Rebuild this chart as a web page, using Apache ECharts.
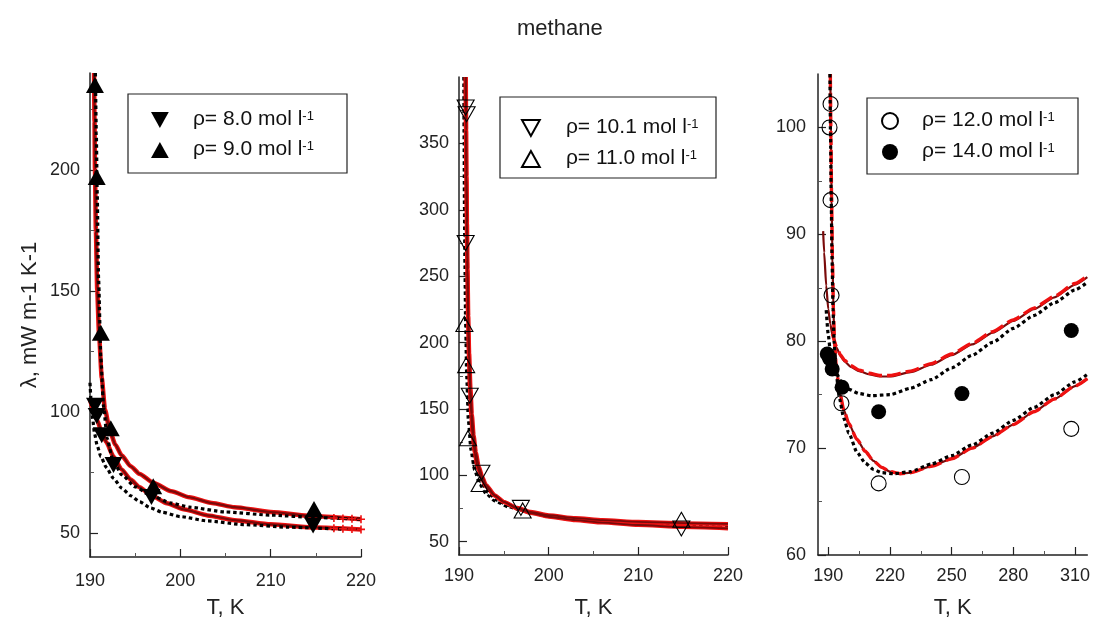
<!DOCTYPE html>
<html><head><meta charset="utf-8">
<script src="https://cdn.jsdelivr.net/npm/echarts@6/dist/echarts.min.js"></script>
<style>html,body{margin:0;padding:0;background:#fff}#c{width:1093px;height:624px}</style>
</head><body><div id="c"></div>
<script>
// ---------- Panel 1 (rho = 8.0, 9.0) ----------
const p1_pts8_T = [190.55, 190.74, 191.3, 192.6, 196.8, 214.7];
const p1_pts8_L = [102.5, 98.3, 90.3, 78.0, 64.8, 53.0];
const p1_pts9_T = [190.55, 190.74, 191.2, 192.3, 197.0, 214.8];
const p1_pts9_L = [235.0, 197.0, 132.7, 93.2, 69.2, 59.8];
const p1_c9_T = [190.45, 190.5, 190.55, 190.65, 190.8, 191.0, 191.3, 191.66, 192.2, 192.8, 193.5, 194.5, 195.5, 197, 199, 201, 203.5, 206, 210, 215, 220];
const p1_c9_L = [240, 220, 200, 175, 150, 132, 114, 101, 92, 86.5, 82, 77.5, 74.3, 70.7, 67.2, 64.7, 62.3, 60.6, 58.6, 56.8, 55.6];
const p1_d9_T = [190.6, 190.7, 190.8, 190.95, 191.2, 191.5, 191.9, 192.5, 193.5, 195, 196.7, 199, 201, 205, 210, 215, 220];
const p1_d9_L = [240, 215, 190, 155, 122, 102, 89, 80.5, 74, 69, 65.5, 62.3, 60.6, 58.6, 57.3, 56.3, 55.6];
const p1_c8_T = [190.0, 190.4, 190.8, 191.3, 191.8, 192.6, 193.5, 194.5, 195.5, 196.8, 198.5, 200.5, 203, 206, 210, 215, 220];
const p1_c8_L = [105, 100.5, 96.5, 91.5, 87.5, 81.5, 76.2, 72, 68.8, 65.4, 62.2, 59.6, 57.2, 55.2, 53.5, 52.2, 51.4];
const p1_d8_T = [190.0, 190.15, 190.3, 190.5, 190.8, 191.2, 191.8, 192.6, 193.5, 194.5, 195.5, 196.7, 198, 200, 203, 207, 212, 218];
const p1_d8_L = [112, 103, 97, 91, 86, 81.5, 77, 72.5, 68.5, 65.3, 62.8, 60.3, 58.5, 56.7, 54.9, 53.4, 52.3, 51.5];
const p1_plus_T = [217, 218, 219, 220, 217, 218, 219, 220];
const p1_plus_L = [56.1, 55.9, 55.8, 55.6, 51.9, 51.7, 51.6, 51.4];

// ---------- Panel 2 (rho = 10.1, 11.0) ----------
const p2_pts10_T = [190.74, 190.85, 190.74, 191.2, 192.5, 196.9, 214.8];
const p2_pts10_L = [377, 372, 275, 160, 102, 75.5, 60];
const p2_pts11_T = [190.6, 190.8, 191.0, 192.3, 197.1, 214.8];
const p2_pts11_L = [214, 183, 128, 93.5, 73.5, 66.5];
const p2_c10_T = [190.72, 190.76, 190.8, 190.85, 190.9, 191.0, 191.1, 191.2, 191.35, 191.5, 191.75, 192, 192.5, 193, 194, 195, 196.5, 198, 200, 203, 206, 210, 215, 220];
const p2_c10_L = [400, 360, 330, 295, 262, 215, 188, 167, 146, 131, 117, 108, 98, 91.5, 84.5, 80, 75.5, 72.5, 70, 67.8, 66.3, 65, 64, 63.4];
const p2_c11_T = [190.78, 190.82, 190.86, 190.91, 190.97, 191.05, 191.15, 191.3, 191.45, 191.65, 191.9, 192.2, 192.6, 193, 194, 195, 196.5, 198, 200, 203, 206, 210, 215, 220];
const p2_c11_L = [400, 360, 325, 290, 255, 220, 192, 165, 146, 130, 117, 107, 99, 93, 85, 80, 75, 71.6, 68.8, 66.2, 64.4, 62.6, 61, 60];
const p2_d10_T = [190.5, 190.53, 190.57, 190.62, 190.7, 190.82, 191.0, 191.3, 191.7, 192.3, 193, 194, 195.5, 197.5, 200, 203, 207, 212, 220];
const p2_d10_L = [400, 350, 300, 260, 215, 175, 142, 119, 104, 93, 86, 80.5, 76, 72.3, 69.2, 66.9, 65.2, 64, 63];
const p2_d11_T = [190.6, 190.64, 190.7, 190.78, 190.9, 191.1, 191.4, 191.8, 192.4, 193.2, 194.2, 195.5, 197.5, 200, 203, 207, 212, 220];
const p2_d11_L = [400, 340, 280, 230, 185, 150, 124, 107, 95, 87, 81, 77, 72.5, 68.7, 66.2, 64.2, 62.5, 61];

// ---------- Panel 3 (rho = 12.0, 14.0) ----------
const p3_pts12_T = [191.1, 190.6, 191.1, 191.6, 196.4, 214.5, 255, 308.2];
const p3_pts12_L = [102.2, 100, 93.2, 84.3, 74.2, 66.7, 67.3, 71.8];
const p3_pts14_T = [189.5, 190.6, 191.9, 196.7, 214.5, 255, 308.2];
const p3_pts14_L = [78.8, 78.4, 77.4, 75.7, 73.4, 75.1, 81.0];
const p3_c12_T = [191.0, 191.3, 191.6, 192.0, 192.5, 193.0, 194.0, 195.5, 197.5, 200, 204, 208, 212, 216, 220, 225, 230, 240, 250, 260, 270, 280, 290, 300, 310, 316];
const p3_c12_L = [105, 99, 93.5, 88, 83, 80, 77.3, 75.3, 73.6, 72.3, 70.8, 69.7, 68.8, 68.2, 67.8, 67.6, 67.7, 68.3, 69.0, 70.0, 71.1, 72.2, 73.4, 74.6, 75.8, 76.5];
const p3_d12_T = [190.8, 191.1, 191.4, 191.8, 192.3, 192.8, 193.8, 195.5, 197.5, 200, 204, 208, 212, 216, 222, 230, 240, 250, 260, 270, 280, 290, 300, 310, 316];
const p3_d12_L = [105, 99, 93.5, 88, 83, 80, 77, 74.6, 72.8, 71.4, 69.6, 68.6, 68.0, 67.7, 67.6, 67.8, 68.5, 69.3, 70.3, 71.4, 72.6, 73.8, 75.0, 76.2, 76.9];
const p3_c14_T = [187.5, 188, 189, 190, 191, 192, 194, 196, 198, 201, 205, 210, 215, 220, 230, 240, 250, 260, 270, 280, 290, 300, 310, 316];
const p3_c14_L = [90.3, 88.3, 85.2, 83.0, 81.6, 80.6, 79.4, 78.6, 78.1, 77.6, 77.2, 76.9, 76.7, 76.7, 77.1, 77.8, 78.7, 79.7, 80.8, 81.9, 83.0, 84.1, 85.3, 86.0];
const p3_r14_T = [192, 194, 196, 198, 201, 205, 210, 215, 220, 230, 240, 250, 260, 270, 280, 290, 300, 310, 316];
const p3_r14_L = [80.7, 79.5, 78.7, 78.2, 77.7, 77.3, 77.0, 76.8, 76.8, 77.2, 77.9, 78.8, 79.8, 80.9, 82.0, 83.1, 84.2, 85.4, 86.1];
const p3_d14_T = [189, 190, 191, 192.5, 194, 196, 198, 200, 205, 211, 220, 230, 240, 250, 260, 270, 280, 290, 300, 310, 316];
const p3_d14_L = [82.9, 80.6, 79.0, 77.8, 77.0, 76.3, 75.8, 75.5, 75.1, 74.9, 75.0, 75.6, 76.4, 77.5, 78.7, 79.9, 81.2, 82.4, 83.6, 84.8, 85.5];

// ---------- axis ticks & labels ----------
const p1_xMajor = [190, 200, 210, 220], p1_xMinor = [195, 205, 215];
const p1_yMajor = [50, 100, 150, 200], p1_yMinor = [75, 125, 175, 225];
const p2_xMajor = [190, 200, 210, 220], p2_xMinor = [195, 205, 215];
const p2_yMajor = [50, 100, 150, 200, 250, 300, 350], p2_yMinor = [75, 125, 175, 225, 275, 325, 375];
const p3_xMajor = [190, 220, 250, 280, 310], p3_xMinor = [205, 235, 265, 295];
const p3_yMajor = [60, 70, 80, 90, 100], p3_yMinor = [65, 75, 85, 95];

const names = ['8.0', '9.0', '10.1', '11.0', '12.0', '14.0'];

const FONT = '"Liberation Sans", Arial, sans-serif';
const AX = '#222';
const zip = (a, b) => a.map((v, i) => [v, b[i]]);

function axesFor(i, kind, min, max, major, minor, name, nameGap, margin) {
  const main = {
    type: 'value', gridIndex: i, min, max,
    position: kind === 'x' ? 'bottom' : 'left',
    axisLine: { show: true, onZero: false, lineStyle: { color: AX, width: 1.5 } },
    axisTick: { show: true, inside: true, length: 8, customValues: major, lineStyle: { color: AX, width: 1.2 } },
    axisLabel: { show: true, customValues: major, color: '#222', fontSize: 18, fontFamily: FONT, margin: margin },
    splitLine: { show: false },
    name: name, nameLocation: 'middle', nameGap: nameGap,
    nameTextStyle: { color: '#222', fontSize: 22, fontFamily: FONT }
  };
  const minorAx = {
    type: 'value', gridIndex: i, min, max,
    position: kind === 'x' ? 'bottom' : 'left',
    axisLine: { show: false },
    axisTick: { show: true, inside: true, length: 4, customValues: minor, lineStyle: { color: '#555', width: 1 } },
    axisLabel: { show: false, customValues: minor },
    splitLine: { show: false }
  };
  return [main, minorAx];
}

const xAxes = [], yAxes = [];
function addPanel(i, xr, yr, xMaj, xMin, yMaj, yMin, yName, xGap, xMargin, yMargin) {
  const xs = axesFor(i, 'x', xr[0], xr[1], xMaj, xMin, 'T, K', xGap, xMargin);
  const ys = axesFor(i, 'y', yr[0], yr[1], yMaj, yMin, yName, 49, yMargin);
  xAxes.push(xs[0], xs[1]);
  yAxes.push(ys[0], ys[1]);
}
addPanel(0, [190, 220], [40, 240], p1_xMajor, p1_xMinor, p1_yMajor, p1_yMinor, 'λ, mW m-1 K-1', 40, 15, 10);
addPanel(1, [190, 220], [40, 400], p2_xMajor, p2_xMinor, p2_yMajor, p2_yMinor, '', 42, 12, 10);
addPanel(2, [185, 316], [60, 105], p3_xMajor, p3_xMinor, p3_yMajor, p3_yMinor, '', 42, 12, 12);

const RED = '#ee1111', DARK = '#7a0a0a';
function line(p, data, color, width, type, z) {
  return { type: 'line', xAxisIndex: p * 2, yAxisIndex: p * 2, data, showSymbol: false, symbol: 'none',
    smooth: 0.2, smoothMonotone: 'x', silent: true, z: z,
    lineStyle: { color, width, type } };
}
function pts(p, name, data, symbol, rotate, filled, size) {
  return { type: 'scatter', name, xAxisIndex: p * 2, yAxisIndex: p * 2, data, symbol, symbolRotate: rotate,
    symbolSize: size, z: 10,
    itemStyle: filled ? { color: '#000', borderColor: '#000', borderWidth: 0, opacity: 1 }
                      : { color: 'rgba(255,255,255,0)', borderColor: '#000', borderWidth: 1.1, opacity: 1 } };
}

const DOT = [3.5, 3], LDASH = [14, 5];
const series = [
  // panel 1
  line(0, zip(p1_c9_T, p1_c9_L), RED, 4.5, 'solid', 2),
  line(0, zip(p1_c9_T, p1_c9_L), DARK, 2.2, 'solid', 3),
  line(0, zip(p1_d9_T, p1_d9_L), '#000', 3.2, DOT, 4),
  line(0, zip(p1_c8_T, p1_c8_L), RED, 4.5, 'solid', 2),
  line(0, zip(p1_c8_T, p1_c8_L), DARK, 2.2, 'solid', 3),
  line(0, zip(p1_d8_T, p1_d8_L), '#000', 3.2, DOT, 4),
  { type: 'scatter', xAxisIndex: 0, yAxisIndex: 0, data: zip(p1_plus_T, p1_plus_L), silent: true, z: 5,
    symbol: 'path://M4,0h2v4h4v2h-4v4h-2v-4h-4v-2h4z', symbolSize: 8, itemStyle: { color: RED, opacity: 1 } },
  pts(0, names[0], zip(p1_pts8_T, p1_pts8_L), 'triangle', 180, true, [18, 16]),
  pts(0, names[1], zip(p1_pts9_T, p1_pts9_L), 'triangle', 0, true, [18, 16]),
  // panel 2
  line(1, zip(p2_d10_T, p2_d10_L), '#000', 2.5, DOT, 2),
  line(1, zip(p2_d11_T, p2_d11_L), '#000', 2.5, DOT, 2),
  line(1, zip(p2_c10_T, p2_c10_L), RED, 4, 'solid', 3),
  line(1, zip(p2_c10_T, p2_c10_L), DARK, 1.8, 'solid', 4),
  line(1, zip(p2_c11_T, p2_c11_L), RED, 4, 'solid', 3),
  line(1, zip(p2_c11_T, p2_c11_L), DARK, 1.8, 'solid', 4),
  pts(1, names[2], zip(p2_pts10_T, p2_pts10_L), 'triangle', 180, false, [17, 15]),
  pts(1, names[3], zip(p2_pts11_T, p2_pts11_L), 'triangle', 0, false, [17, 15]),
  // panel 3
  line(2, zip(p3_c12_T, p3_c12_L), DARK, 2.2, 'solid', 2),
  line(2, zip(p3_c12_T, p3_c12_L), RED, 3.4, LDASH, 3),
  line(2, zip(p3_d12_T, p3_d12_L), '#000', 3.2, DOT, 4),
  line(2, zip(p3_c14_T, p3_c14_L), DARK, 2.2, 'solid', 2),
  line(2, zip(p3_r14_T, p3_r14_L), RED, 3.4, LDASH, 3),
  line(2, zip(p3_d14_T, p3_d14_L), '#000', 3.2, DOT, 4),
  pts(2, names[4], zip(p3_pts12_T, p3_pts12_L), 'circle', 0, false, 15),
  pts(2, names[5], zip(p3_pts14_T, p3_pts14_L), 'circle', 0, true, 15)
];

const DOWN = 'path://M0,0L20,0L10,18Z', UP = 'path://M10,0L20,18L0,18Z';
function legendFor(data, left, top, gap, pad) {
  return {
    data, left, top, orient: 'vertical', itemWidth: 18, itemHeight: 16, itemGap: gap,
    selectedMode: false, padding: 0,
    formatter: n => '{t|ρ= ' + n + ' mol l}{s|-1}',
    textStyle: {
      rich: {
        t: { fontSize: 21, fontFamily: FONT, color: '#111', lineHeight: 20, verticalAlign: 'bottom', padding: [0, 0, 0, pad] },
        s: { fontSize: 13, fontFamily: FONT, color: '#111', lineHeight: 13, verticalAlign: 'top' }
      }
    }
  };
}

const option = {
  backgroundColor: '#fff',
  animation: false,
  title: { text: 'methane', left: 512, top: 13, textStyle: { fontSize: 22, fontWeight: 'normal', fontFamily: FONT, color: '#222' } },
  grid: [
    { left: 90, top: 73, width: 271, height: 484 },
    { left: 459, top: 77, width: 269, height: 484 },
    { left: 818, top: 74, width: 275, height: 486 }
  ],
  xAxis: xAxes,
  yAxis: yAxes,
  legend: [
    legendFor([{ name: names[0], icon: DOWN }, { name: names[1], icon: UP }], 151, 109, 9, 19),
    legendFor([{ name: names[2], icon: DOWN }, { name: names[3], icon: UP }], 521, 117, 10, 21),
    legendFor([{ name: names[4], icon: 'circle' }, { name: names[5], icon: 'circle' }], 881, 110, 10, 18)
  ],
  graphic: [
    { type: 'rect', shape: { x: 128, y: 94, width: 219, height: 79 }, style: { fill: 'none', stroke: '#222', lineWidth: 1.2 }, silent: true },
    { type: 'rect', shape: { x: 500, y: 97, width: 216, height: 81 }, style: { fill: 'none', stroke: '#222', lineWidth: 1.2 }, silent: true },
    { type: 'rect', shape: { x: 867, y: 98, width: 211, height: 76 }, style: { fill: 'none', stroke: '#222', lineWidth: 1.2 }, silent: true }
  ],
  series
};
const chart = echarts.init(document.getElementById('c'), null, { renderer: 'canvas' });
chart.setOption(option);
</script></body></html>
